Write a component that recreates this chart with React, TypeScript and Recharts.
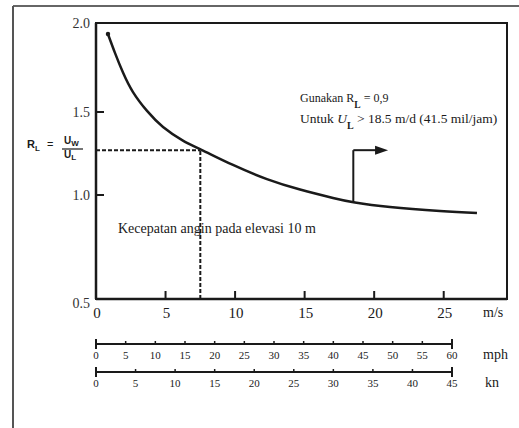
import React from 'react';
import {
  LineChart,
  Line,
  XAxis,
  YAxis,
  ReferenceLine,
  ReferenceDot,
  ReferenceArea,
  Customized,
} from 'recharts';

// ---- data ----
const windSpeedMs = [0.86, 1.37, 1.94, 2.66, 3.67, 4.82, 6.25, 7.62, 9.85, 12.29, 14.67, 17.04, 18.62, 21.14, 24.73, 27.39];
const ratioRL = [1.938, 1.831, 1.722, 1.612, 1.506, 1.41, 1.328, 1.271, 1.181, 1.096, 1.033, 0.986, 0.964, 0.942, 0.923, 0.913];

const msTicks = [0, 5, 10, 15, 20, 25];
const mphTicks = [0, 5, 10, 15, 20, 25, 30, 35, 40, 45, 50, 55, 60];
const knTicks = [0, 5, 10, 15, 20, 25, 30, 35, 40, 45];
const rlTicks = [0.5, 1.0, 1.5, 2.0];
// the printed R_L axis is unevenly spaced: relative spacing of its ticks
const rlTickSpacing = [0, 104, 187, 276];

const refSpeed = 7.5;
const refRatio = 1.27;
const arrowSpeed = 18.5;
const arrowFoot = 0.965;
const arrowTipSpeed = 21.0;

const MS_MAX = 29.55;
const MPH_MAX = 69.27;
const KN_MAX = 51.95;

const SERIF = '"Liberation Serif", "Times New Roman", serif';
const SANS = '"Liberation Sans", Arial, sans-serif';
const INK = '#1a1a1a';

function toAxis(v: number): number {
  for (let i = 0; i < rlTicks.length - 1; i++) {
    if (v <= rlTicks[i + 1] || i === rlTicks.length - 2) {
      const t = (v - rlTicks[i]) / (rlTicks[i + 1] - rlTicks[i]);
      return rlTickSpacing[i] + t * (rlTickSpacing[i + 1] - rlTickSpacing[i]);
    }
  }
  return 0;
}

const data = windSpeedMs.map((x, i) => ({ x, rl: toAxis(ratioRL[i]) }));

const MsTick = (props: any) => {
  const { x, y, payload } = props;
  return (
    <g>
      {payload.value !== 0 && (
        <line x1={x} x2={x} y1={y} y2={y - 8} stroke={INK} strokeWidth={2} />
      )}
      <text x={x + 1} y={y + 19} textAnchor="middle" fontSize={15} fontFamily={SERIF} fill={INK}>
        {payload.value}
      </text>
    </g>
  );
};

const makeScaleTick = (last: number) => (props: any) => {
  const { x, y, payload } = props;
  const end = payload.value === 0 || payload.value === last;
  return (
    <g>
      <line x1={x} x2={x} y1={end ? y - 5 : y - 3} y2={end ? y + 5 : y} stroke={INK} strokeWidth={end ? 2 : 1.5} />
      <text x={x} y={y + 15} textAnchor="middle" fontSize={11} fontFamily={SERIF} fill={INK}>
        {payload.value}
      </text>
    </g>
  );
};

const MphTick = makeScaleTick(60);
const KnTick = makeScaleTick(45);

const RlTick = (props: any) => {
  const { x, y, payload } = props;
  const idx = rlTickSpacing.indexOf(payload.value);
  const label = rlTicks[idx];
  const inner = label === 1.0 || label === 1.5;
  return (
    <g>
      {inner && <line x1={x} x2={x + 8} y1={y} y2={y} stroke={INK} strokeWidth={2} />}
      <text x={x - 6} y={y + (label === 0.5 ? 9 : 5)} textAnchor="end" fontSize={14} fontFamily={SERIF} fill="#333">
        {label.toFixed(1)}
      </text>
    </g>
  );
};

const ArrowHead = (props: any) => {
  const { cx, cy } = props;
  return <path d={`M${cx},${cy} L${cx - 13},${cy - 4.5} L${cx - 13},${cy + 4.5} Z`} fill={INK} />;
};

const StartBlob = (props: any) => {
  const { cx, cy } = props;
  return <circle cx={cx} cy={cy} r={2.2} fill={INK} />;
};

const Decorations = () => (
  <g>
    <line x1={13} y1={6} x2={519} y2={6} stroke="#666" strokeWidth={2} />
    <line x1={13} y1={6} x2={13} y2={428} stroke="#555" strokeWidth={2} />

    {/* R_L = U_W / U_L */}
    <text x={27} y={148} fontSize={11} fontFamily={SANS} fontWeight={600} fill={INK}>
      R<tspan fontSize={8} dy={3}>L</tspan>
    </text>
    <text x={47} y={148} fontSize={11} fontFamily={SANS} fill={INK}>=</text>
    <text x={64} y={144} fontSize={10} fontFamily={SANS} fontWeight={600} fill={INK}>
      U<tspan fontSize={8} dy={2}>W</tspan>
    </text>
    <line x1={62} x2={83} y1={149} y2={149} stroke={INK} strokeWidth={1.2} />
    <text x={64} y={158} fontSize={10} fontFamily={SANS} fontWeight={600} fill={INK}>
      U<tspan fontSize={8} dy={2}>L</tspan>
    </text>

    {/* annotations */}
    <text x={300} y={102} fontSize={12} fontFamily={SERIF} fill={INK}>
      Gunakan R<tspan fontSize={9.5} fontWeight="bold" dy={6}>L</tspan>
      <tspan dy={-6}>{' = 0,9'}</tspan>
    </text>
    <text x={300} y={123} fontSize={13.5} fontFamily={SERIF} fill={INK}>
      {'Untuk '}<tspan fontStyle="italic">U</tspan>
      <tspan fontSize={10} fontWeight="bold" dy={6}>L</tspan>
      <tspan dy={-6}>{'  > 18.5 m/d (41.5 mil/jam)'}</tspan>
    </text>
    <rect x={196} y={221} width={14} height={18} fill="#fff" />
    <text x={118} y={233} fontSize={14} fontFamily={SERIF} fill={INK}>
      Kecepatan angin pada elevasi 10 m
    </text>

    {/* unit labels */}
    <text x={483} y={317} fontSize={14} fontFamily={SERIF} fill={INK}>m/s</text>
    <text x={483} y={359} fontSize={14} fontFamily={SERIF} fill={INK}>mph</text>
    <text x={485} y={387} fontSize={14} fontFamily={SERIF} fill={INK}>kn</text>
  </g>
);

export default function App() {
  return (
    <div style={{ position: 'absolute', left: 0, top: 0, background: '#fff' }}>
      <LineChart
        width={519}
        height={428}
        data={data}
        margin={{ top: 23, right: 12, left: 0, bottom: 32 }}
      >
        <XAxis
          xAxisId="c_kn"
          dataKey="x"
          type="number"
          domain={[0, KN_MAX]}
          ticks={knTicks}
          interval={0}
          allowDataOverflow
          height={24}
          tickSize={0}
          tickMargin={0}
          tickLine={false}
          axisLine={{ stroke: INK, strokeWidth: 2, strokeDasharray: '356 1000' }}
          tick={KnTick}
        />
        <XAxis
          xAxisId="b_mph"
          dataKey="x"
          type="number"
          domain={[0, MPH_MAX]}
          ticks={mphTicks}
          interval={0}
          allowDataOverflow
          height={28}
          tickSize={0}
          tickMargin={0}
          tickLine={false}
          axisLine={{ stroke: INK, strokeWidth: 2, strokeDasharray: '356 1000' }}
          tick={MphTick}
        />
        <XAxis
          xAxisId="a_ms"
          dataKey="x"
          type="number"
          domain={[0, MS_MAX]}
          ticks={msTicks}
          interval={0}
          allowDataOverflow
          height={45}
          tickSize={0}
          tickMargin={0}
          tickLine={false}
          axisLine={{ stroke: INK, strokeWidth: 2.5 }}
          tick={MsTick}
        />
        <YAxis
          type="number"
          domain={[0, 276]}
          ticks={rlTickSpacing}
          interval={0}
          allowDataOverflow
          width={96}
          tickSize={0}
          tickMargin={0}
          tickLine={false}
          axisLine={{ stroke: INK, strokeWidth: 2.5 }}
          tick={RlTick}
        />
        <ReferenceArea
          xAxisId="a_ms"
          x1={0}
          x2={MS_MAX}
          y1={0}
          y2={276}
          fill="none"
          fillOpacity={0}
          stroke={INK}
          strokeWidth={2}
          ifOverflow="visible"
        />
        <ReferenceLine
          xAxisId="a_ms"
          segment={[{ x: 0, y: toAxis(refRatio) }, { x: refSpeed, y: toAxis(refRatio) }]}
          stroke={INK}
          strokeWidth={2}
          strokeDasharray="4 2"
        />
        <ReferenceLine
          xAxisId="a_ms"
          segment={[{ x: refSpeed, y: toAxis(0.5) }, { x: refSpeed, y: toAxis(refRatio) }]}
          stroke={INK}
          strokeWidth={2}
          strokeDasharray="4 2"
        />
        <ReferenceLine
          xAxisId="a_ms"
          segment={[{ x: arrowSpeed, y: toAxis(arrowFoot) }, { x: arrowSpeed, y: toAxis(refRatio) }]}
          stroke={INK}
          strokeWidth={2}
        />
        <ReferenceLine
          xAxisId="a_ms"
          segment={[{ x: arrowSpeed, y: toAxis(refRatio) }, { x: arrowTipSpeed - 0.8, y: toAxis(refRatio) }]}
          stroke={INK}
          strokeWidth={2}
        />
        <ReferenceDot
          xAxisId="a_ms"
          x={arrowTipSpeed}
          y={toAxis(refRatio)}
          shape={ArrowHead}
        />
        <Line
          xAxisId="a_ms"
          dataKey="rl"
          type="natural"
          stroke={INK}
          strokeWidth={2.5}
          dot={false}
          isAnimationActive={false}
        />
        <ReferenceDot
          xAxisId="a_ms"
          x={windSpeedMs[0]}
          y={toAxis(ratioRL[0])}
          shape={StartBlob}
        />
        <Customized component={Decorations} />
      </LineChart>
    </div>
  );
}
